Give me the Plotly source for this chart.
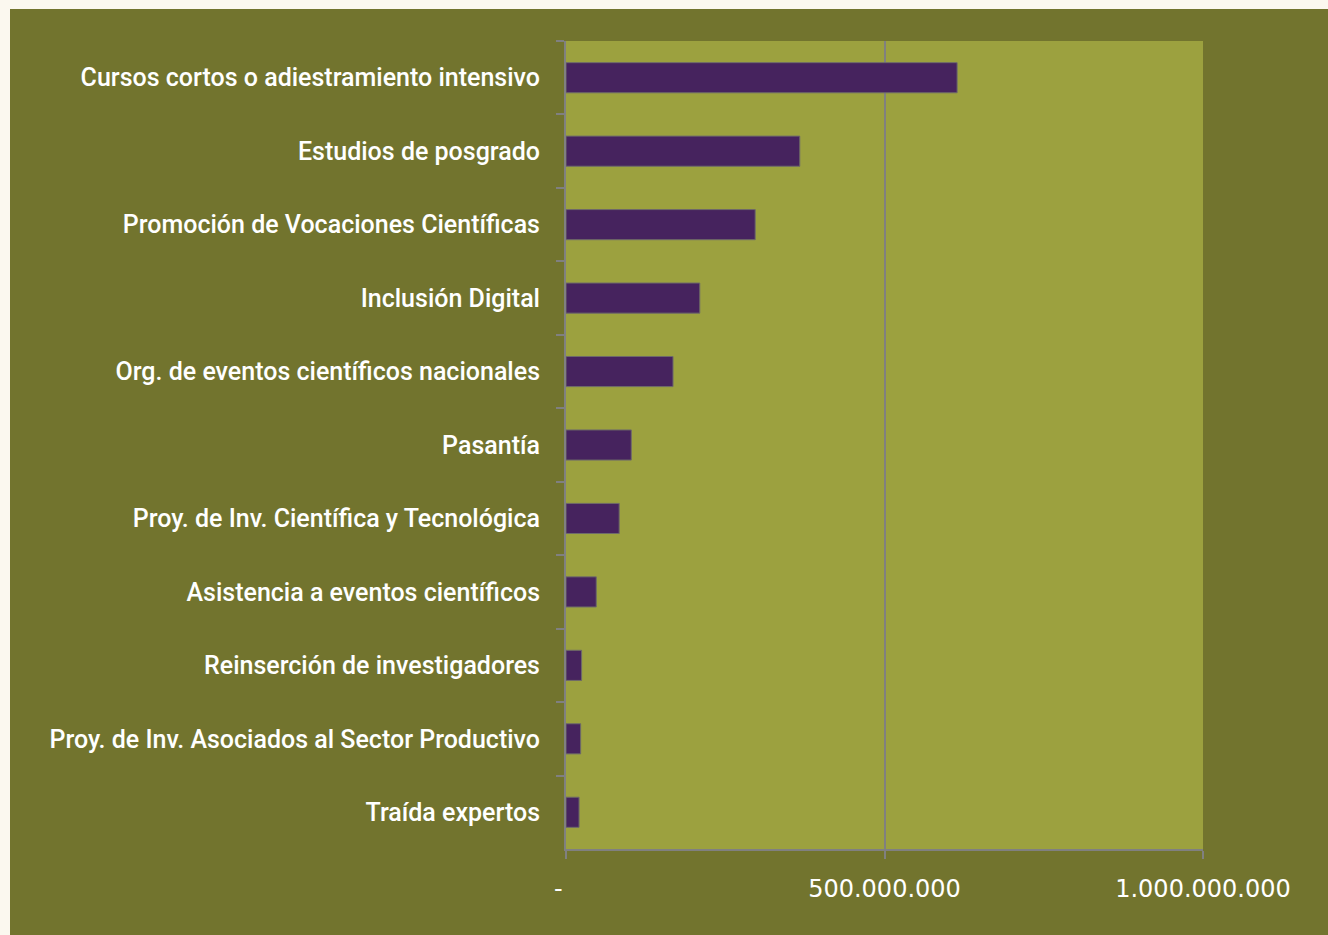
import plotly.graph_objects as go

categories = [
    "Cursos cortos o adiestramiento intensivo",
    "Estudios de posgrado",
    "Promoción de Vocaciones Científicas",
    "Inclusión Digital",
    "Org. de eventos científicos nacionales",
    "Pasantía",
    "Proy. de Inv. Científica y Tecnológica",
    "Asistencia a eventos científicos",
    "Reinserción de investigadores",
    "Proy. de Inv. Asociados al Sector Productivo",
    "Traída expertos",
]
values = [614e6, 367e6, 297e6, 210e6, 168e6, 102.5e6, 83.5e6, 47.5e6, 24.5e6, 23e6, 20.5e6]
x_tickvals = [0, 500e6, 1000e6]
x_ticktext = ["-\u00a0\u00a0", "500.000.000", "1.000.000.000"]

W, H = 1328, 935
L, R, T, B = 566, 125, 41, 86
pw, ph = W - L - R, H - T - B

OLIVE = "#72742e"
PLOT = "#9ca13f"
BAR = "#46235e"
GRAY = "#808080"
CREAM = "#fbf8ef"

fig = go.Figure(go.Bar(
    x=values, y=categories, orientation="h",
    width=0.41,
    marker=dict(color=BAR, line=dict(color="#6e6a6a", width=1)),
))

fig.update_layout(
    width=W, height=H,
    margin=dict(l=L, r=R, t=T, b=B, pad=0),
    paper_bgcolor=OLIVE, plot_bgcolor=PLOT,
    showlegend=False,
    font=dict(family="Roboto", color="white", size=25),
    xaxis=dict(
        range=[0, 1000e6], tickvals=x_tickvals, ticktext=x_ticktext,
        showgrid=True, gridcolor=GRAY, gridwidth=1.5,
        zeroline=False, showline=True, linecolor=GRAY, linewidth=2,
        ticks="outside", ticklen=8, tickcolor=GRAY, tickwidth=2,
        tickfont=dict(family="DejaVu Sans", size=24, color="white"),
        ticklabelstandoff=9,
    ),
    yaxis=dict(
        autorange="reversed", type="category",
        showline=True, linecolor=GRAY, linewidth=2,
        ticks="outside", tickson="boundaries", ticklen=8, tickcolor=GRAY, tickwidth=2,
        showgrid=False,
        tickfont=dict(family="Roboto", size=25, color="white", weight=500),
        ticklabelstandoff=19,
    ),
    shapes=[
        dict(type="rect", xref="paper", yref="paper",
             x0=-L / pw - 0.01, x1=(W - L) / pw + 0.01,
             y0=(H - B - 9) / ph, y1=(H - B) / ph + 0.01,
             fillcolor=CREAM, line=dict(width=0), layer="above"),
        dict(type="rect", xref="paper", yref="paper",
             x0=-L / pw - 0.01, x1=(10 - L) / pw,
             y0=-B / ph - 0.01, y1=(H - B) / ph + 0.01,
             fillcolor=CREAM, line=dict(width=0), layer="above"),
    ],
)

fig.write_html(
    "out.html",
    config={"displayModeBar": False},
    post_script="document.body.style.margin='0';document.body.style.background='%s';" % CREAM,
)
